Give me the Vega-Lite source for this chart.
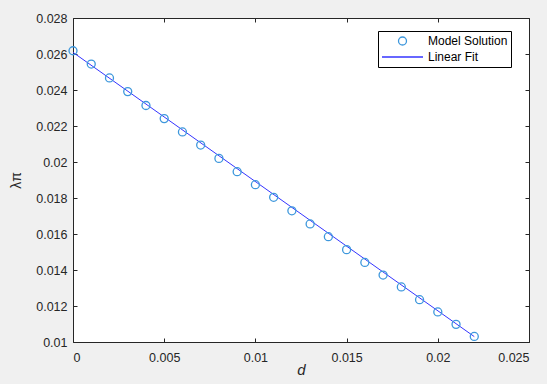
{
  "$schema": "https://vega.github.io/schema/vega-lite/v6.json",
  "width": 456,
  "height": 324,
  "autosize": {"type": "none"},
  "padding": {"left": 73, "top": 18, "right": 18, "bottom": 42},
  "background": "#f0f0f0",
  "config": {
    "view": {"fill": "white", "stroke": null},
    "font": "Liberation Sans",
    "axis": {
      "domainColor": "#262626",
      "tickColor": "#262626",
      "labelColor": "#262626",
      "titleColor": "#262626",
      "grid": false,
      "labelFontSize": 12.5,
      "labelFont": "Liberation Sans",
      "labelFontWeight": "normal",
      "tickSize": -4,
      "domainWidth": 1,
      "tickWidth": 1
    }
  },
  "datasets": {
    "model": [
      {"d": 0.000, "lam": 0.02618, "series": "Model Solution"},
      {"d": 0.001, "lam": 0.02544, "series": "Model Solution"},
      {"d": 0.002, "lam": 0.02467, "series": "Model Solution"},
      {"d": 0.003, "lam": 0.02391, "series": "Model Solution"},
      {"d": 0.004, "lam": 0.02314, "series": "Model Solution"},
      {"d": 0.005, "lam": 0.02241, "series": "Model Solution"},
      {"d": 0.006, "lam": 0.02167, "series": "Model Solution"},
      {"d": 0.007, "lam": 0.02094, "series": "Model Solution"},
      {"d": 0.008, "lam": 0.02020, "series": "Model Solution"},
      {"d": 0.009, "lam": 0.01946, "series": "Model Solution"},
      {"d": 0.010, "lam": 0.01874, "series": "Model Solution"},
      {"d": 0.011, "lam": 0.01804, "series": "Model Solution"},
      {"d": 0.012, "lam": 0.01729, "series": "Model Solution"},
      {"d": 0.013, "lam": 0.01656, "series": "Model Solution"},
      {"d": 0.014, "lam": 0.01585, "series": "Model Solution"},
      {"d": 0.015, "lam": 0.01513, "series": "Model Solution"},
      {"d": 0.016, "lam": 0.01442, "series": "Model Solution"},
      {"d": 0.017, "lam": 0.01372, "series": "Model Solution"},
      {"d": 0.018, "lam": 0.01306, "series": "Model Solution"},
      {"d": 0.019, "lam": 0.01235, "series": "Model Solution"},
      {"d": 0.020, "lam": 0.01167, "series": "Model Solution"},
      {"d": 0.021, "lam": 0.01098, "series": "Model Solution"},
      {"d": 0.022, "lam": 0.01031, "series": "Model Solution"}
    ],
    "fit": [
      {"d": 0.000, "lam": 0.02609, "series": "Linear Fit"},
      {"d": 0.022, "lam": 0.01030, "series": "Linear Fit"}
    ]
  },
  "resolve": {"axis": {"x": "independent", "y": "independent"}},
  "layer": [
    {
      "data": {"name": "fit"},
      "mark": {"type": "line", "strokeWidth": 1, "opacity": 1},
      "encoding": {
        "x": {"field": "d", "type": "quantitative",
          "scale": {"domain": [0, 0.025], "nice": false, "zero": false},
          "axis": {"orient": "top", "labels": false, "title": null, "values": [0, 0.005, 0.01, 0.015, 0.02, 0.025]}},
        "y": {"field": "lam", "type": "quantitative",
          "scale": {"domain": [0.01, 0.028], "nice": false, "zero": false},
          "axis": {"orient": "right", "labels": false, "title": null, "values": [0.01, 0.012, 0.014, 0.016, 0.018, 0.02, 0.022, 0.024, 0.026, 0.028]}},
        "color": {"field": "series", "type": "nominal",
          "scale": {"domain": ["Model Solution", "Linear Fit"], "range": ["#3d97dc", "#3535ff"]}}
      }
    },
    {
      "data": {"name": "model"},
      "mark": {"type": "point", "filled": false, "strokeWidth": 1.3, "opacity": 1},
      "encoding": {
        "x": {"field": "d", "type": "quantitative",
          "scale": {"domain": [0, 0.025], "nice": false, "zero": false},
          "axis": {"orient": "bottom", "format": "~g", "title": "d", "titleFontStyle": "italic", "titleFontWeight": "normal", "titleFontSize": 15, "titlePadding": -1, "labelPadding": 13, "values": [0, 0.005, 0.01, 0.015, 0.02, 0.025]}},
        "y": {"field": "lam", "type": "quantitative",
          "scale": {"domain": [0.01, 0.028], "nice": false, "zero": false},
          "axis": {"orient": "left", "format": "~g", "title": "λπ", "titleFontWeight": "normal", "titleFontSize": 14, "titlePadding": 12, "labelPadding": 10, "values": [0.01, 0.012, 0.014, 0.016, 0.018, 0.02, 0.022, 0.024, 0.026, 0.028]}},
        "color": {"field": "series", "type": "nominal",
          "scale": {"domain": ["Model Solution", "Linear Fit"], "range": ["#3d97dc", "#3535ff"]},
          "legend": {
            "title": null, "orient": "none", "legendX": 305, "legendY": 13,
            "strokeColor": "black", "fillColor": "white", "padding": 3, "cornerRadius": 0,
            "labelFontSize": 12, "labelColor": "black", "labelFont": "Liberation Sans",
            "symbolStrokeWidth": 1.3, "symbolOpacity": 1, "labelOffset": 4, "rowPadding": 2,
            "clipHeight": 14
          }},
        "shape": {"field": "series", "type": "nominal",
          "scale": {"domain": ["Model Solution", "Linear Fit"], "range": ["circle", "stroke"]},
          "legend": {"title": null}},
        "size": {"field": "series", "type": "nominal",
          "scale": {"domain": ["Model Solution", "Linear Fit"], "range": [64, 1681]},
          "legend": {"title": null}}
      }
    }
  ]
}
